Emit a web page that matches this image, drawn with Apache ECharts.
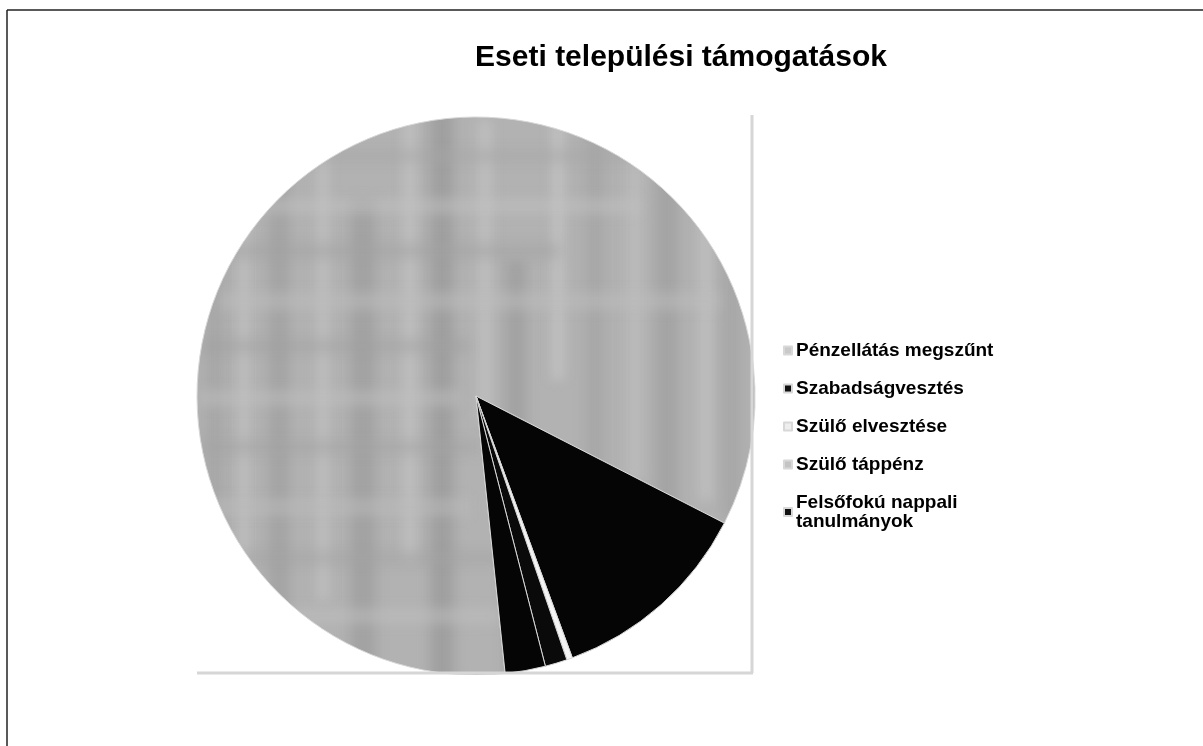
<!DOCTYPE html>
<html>
<head>
<meta charset="utf-8">
<script src="https://cdn.jsdelivr.net/npm/echarts@6/dist/echarts.min.js"></script>
<style>
html,body{margin:0;padding:0;background:#fff;}
#chart{width:1203px;height:746px;}
</style>
</head>
<body>
<div id="chart"></div>
<script>
// Data (values read as slice angles, in degrees of the pie)
const categories = ['Pénzellátás megszűnt', 'Szabadságvesztés', 'Szülő elvesztése', 'Szülő táppénz', 'Felsőfokú nappali tanulmányok'];
const values = [303.1, 42.7, 1.2, 4.6, 8.4];
const sliceColors = ['#b3b3b3', '#050505', '#f4f4f4', '#0a0a0a', '#050505'];
const legendColors = ['#c9c9c9', '#111111', '#eeeeee', '#c4c4c4', '#111111'];
const titleText = 'Eseti települési támogatások';

// Mottled gray texture for the large slice (fixed bands, blurred)
function makeTexture() {
  const c = document.createElement('canvas');
  c.width = 1203; c.height = 746;
  const g = c.getContext('2d');
  g.fillStyle = '#b2b2b2';
  g.fillRect(0, 0, c.width, c.height);
  g.filter = 'blur(6px)';
  const vb = [[205,20,'#a4a4a4',120,640],[240,8,'#c8c8c8',140,600],[268,22,'#a0a0a0',150,660],[318,10,'#c4c4c4',110,600],[350,26,'#9e9e9e',200,680],[405,9,'#cacaca',110,560],[430,24,'#9a9a9a',110,700],[478,14,'#c2c2c2',120,420],[505,22,'#9e9e9e',260,690],[552,12,'#c6c6c6',110,380],[585,20,'#a4a4a4',130,520],[628,14,'#bebebe',140,480],[655,24,'#a0a0a0',150,560],[700,12,'#c4c4c4',180,500],[722,20,'#a4a4a4',200,520]];
  vb.forEach(b => { g.fillStyle = b[2]; g.globalAlpha = 0.75; g.fillRect(b[0], b[3], b[1], b[4] - b[3]); });
  const hb = [[150,12,'#a6a6a6',240,700],[198,16,'#c2c2c2',200,640],[244,14,'#a2a2a2',200,560],[292,18,'#bebebe',220,720],[340,12,'#a0a0a0',200,470],[390,16,'#c0c0c0',200,460],[440,14,'#a4a4a4',200,480],[498,18,'#bcbcbc',200,470],[552,12,'#a2a2a2',220,500],[608,16,'#c0c0c0',260,500]];
  hb.forEach(b => { g.fillStyle = b[2]; g.globalAlpha = 0.5; g.fillRect(b[3], b[0], b[4] - b[3], b[1]); });
  g.globalAlpha = 1;
  g.filter = 'none';
  return c;
}
const tex = makeTexture();

const chart = echarts.init(document.getElementById('chart'), null, {renderer: 'canvas'});
const pieData = categories.map((name, i) => ({
  name: name,
  value: values[i],
  itemStyle: { color: i === 0 ? { image: tex, repeat: 'no-repeat' } : sliceColors[i] }
}));
chart.setOption({
  backgroundColor: '#ffffff',
  animation: false,
  title: {
    text: titleText,
    left: 676, top: 38, textAlign: 'center',
    textStyle: { fontFamily: 'Liberation Sans, Arial, sans-serif', fontWeight: 'bold', fontSize: 30, color: '#000' }
  },
  legend: {
    orient: 'vertical',
    left: 778, top: 336,
    icon: 'rect', itemWidth: 8, itemHeight: 8, itemGap: 19,
    selectedMode: false,
    data: categories.map((n, i) => ({ name: n, itemStyle: { color: legendColors[i] } })),
    formatter: n => n === 'Felsőfokú nappali tanulmányok' ? 'Felsőfokú nappali\ntanulmányok' : n,
    textStyle: { fontFamily: 'Liberation Sans, Arial, sans-serif', fontWeight: 'bold', fontSize: 19, color: '#000', padding: [0,0,0,-1], lineHeight: 19 }
  },
  series: [{
    type: 'pie',
    center: [476, 396],
    radius: 279,
    startAngle: 276,
    clockwise: true,
    avoidLabelOverlap: false,
    label: { show: false },
    labelLine: { show: false },
    silent: true,
    itemStyle: { borderColor: '#d8d8d8', borderWidth: 1 },
    data: pieData
  }],
  graphic: [
    { type: 'line', shape: { x1: 752, y1: 115, x2: 752, y2: 673 }, style: { stroke: '#d6d6d6', lineWidth: 3 }, z: 100 },
    { type: 'line', shape: { x1: 197, y1: 673, x2: 753, y2: 673 }, style: { stroke: '#d6d6d6', lineWidth: 3 }, z: 100 },
    { type: 'rect', shape: { x: 0, y: 675, width: 760, height: 20 }, style: { fill: '#fff' }, z: 99 },
    { type: 'line', shape: { x1: 7, y1: 10, x2: 1203, y2: 10 }, style: { stroke: '#222', lineWidth: 1.5 }, z: 100 },
    { type: 'line', shape: { x1: 7, y1: 10, x2: 7, y2: 746 }, style: { stroke: '#222', lineWidth: 1.5 }, z: 100 }
  ]
});
</script>
</body>
</html>
